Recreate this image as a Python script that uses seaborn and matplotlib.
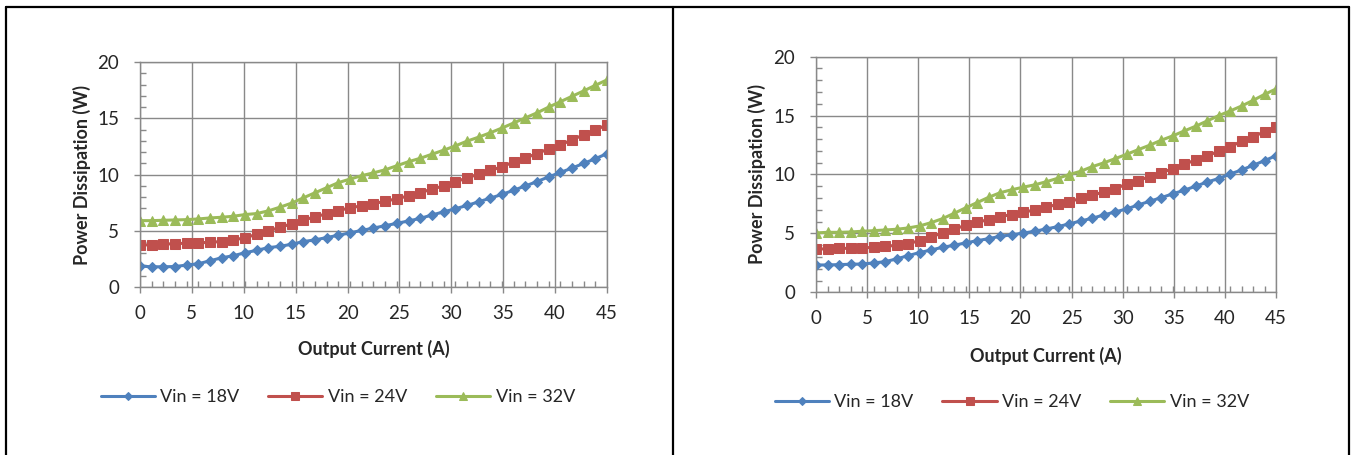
import numpy as np
import pandas as pd
import matplotlib
matplotlib.use('Agg')
import matplotlib.pyplot as plt
from matplotlib.ticker import MultipleLocator, FixedLocator
import seaborn as sns

# Output current (A), 41 points 0..45
current = [0, 1.125, 2.25, 3.375, 4.5, 5.625, 6.75, 7.875, 9, 10.125,
           11.25, 12.375, 13.5, 14.625, 15.75, 16.875, 18, 19.125, 20.25, 21.375,
           22.5, 23.625, 24.75, 25.875, 27, 28.125, 29.25, 30.375, 31.5, 32.625,
           33.75, 34.875, 36, 37.125, 38.25, 39.375, 40.5, 41.625, 42.75, 43.875, 45]

labels = ['Vin = 18V', 'Vin = 24V', 'Vin = 32V']

# left chart
left_18 = [1.86, 1.8, 1.8, 1.82, 1.95, 2.07, 2.33, 2.6, 2.78, 3.05,
           3.26, 3.5, 3.62, 3.8, 4.04, 4.19, 4.4, 4.6, 4.82, 5.03,
           5.24, 5.45, 5.66, 5.87, 6.1, 6.4, 6.68, 6.95, 7.25, 7.57,
           7.9, 8.23, 8.6, 8.98, 9.37, 9.79, 10.18, 10.57, 10.99, 11.4, 11.86]
left_24 = [3.71, 3.77, 3.8, 3.86, 3.89, 3.92, 3.98, 4.04, 4.16, 4.4,
           4.67, 5.0, 5.3, 5.63, 5.93, 6.26, 6.5, 6.8, 7.04, 7.22,
           7.42, 7.62, 7.85, 8.1, 8.38, 8.71, 8.98, 9.34, 9.7, 10.03,
           10.36, 10.69, 11.11, 11.47, 11.86, 12.28, 12.63, 13.08, 13.53, 13.95, 14.43]
left_32 = [5.9, 5.9, 5.93, 5.96, 5.99, 6.05, 6.14, 6.2, 6.29, 6.44,
           6.53, 6.77, 7.1, 7.46, 7.93, 8.38, 8.83, 9.28, 9.6, 9.9,
           10.15, 10.42, 10.78, 11.14, 11.44, 11.8, 12.16, 12.54, 12.96, 13.32,
           13.71, 14.13, 14.58, 15.03, 15.48, 15.99, 16.47, 16.95, 17.43, 17.93, 18.41]

# right chart
right_18 = [2.32, 2.32, 2.35, 2.38, 2.4, 2.49, 2.6, 2.83, 3.11, 3.37,
            3.59, 3.82, 3.99, 4.19, 4.38, 4.55, 4.75, 4.88, 5.02, 5.18,
            5.37, 5.57, 5.8, 6.05, 6.28, 6.56, 6.82, 7.07, 7.41, 7.72,
            8.03, 8.35, 8.66, 9.0, 9.36, 9.65, 10.04, 10.38, 10.78, 11.17, 11.6]
right_24 = [3.68, 3.68, 3.73, 3.73, 3.76, 3.82, 3.9, 3.99, 4.13, 4.38,
            4.7, 5.04, 5.35, 5.69, 5.94, 6.17, 6.42, 6.6, 6.8, 6.98,
            7.21, 7.47, 7.67, 7.98, 8.23, 8.51, 8.8, 9.17, 9.48, 9.82,
            10.13, 10.5, 10.86, 11.23, 11.57, 11.97, 12.36, 12.81, 13.21, 13.63, 14.06]
right_32 = [5.04, 5.09, 5.09, 5.12, 5.18, 5.23, 5.29, 5.35, 5.46, 5.63,
            5.91, 6.25, 6.7, 7.16, 7.61, 8.06, 8.45, 8.7, 8.92, 9.12,
            9.38, 9.67, 9.99, 10.27, 10.66, 10.98, 11.34, 11.71, 12.1, 12.48,
            12.9, 13.27, 13.69, 14.09, 14.54, 14.99, 15.39, 15.81, 16.29, 16.8, 17.26]

colors = ['#4F81BD', '#C0504D', '#9BBB59']
markers = ['D', 's', '^']
msizes = [5.5, 6.5, 7]
grid_col = '#898989'

sns.set_style('white')
plt.rcParams['font.family'] = ['Lato', 'DejaVu Sans']

fig = plt.figure(figsize=(13.51, 4.55), dpi=100)

# panel frames
for xs, ys in [([0.0044, 0.0044], [0.0, 0.985]), ([0.0044, 0.9985], [0.985, 0.985]),
               ([0.4978, 0.4978], [0.0, 0.985]), ([0.9985, 0.9985], [0.0, 0.985])]:
    fig.add_artist(plt.Line2D(xs, ys, color='black', lw=1.6, transform=fig.transFigure))


def draw_panel(rect, series, xlab_y, ylab_x, leg_center):
    ax = fig.add_axes(rect)
    rows = []
    for lab, vals in zip(labels, series):
        for c, v in zip(current, vals):
            rows.append({'Output Current (A)': c, 'Power Dissipation (W)': v, 'Vin': lab})
    df = pd.DataFrame(rows)
    for lab, col, mk, ms in zip(labels, colors, markers, msizes):
        sns.lineplot(data=df[df['Vin'] == lab], x='Output Current (A)', y='Power Dissipation (W)',
                     ax=ax, color=col, marker=mk, markersize=ms, markeredgecolor=col,
                     linewidth=2.2, label=lab)
    ax.set_xlim(0, 45)
    ax.set_ylim(0, 20)
    ax.xaxis.set_major_locator(MultipleLocator(5))
    ax.xaxis.set_minor_locator(FixedLocator(current))
    ax.yaxis.set_major_locator(MultipleLocator(5))
    ax.yaxis.set_minor_locator(MultipleLocator(1))
    ax.grid(True, which='major', color=grid_col, linewidth=1.0)
    for s in ax.spines.values():
        s.set_color(grid_col)
        s.set_linewidth(1.0)
    ax.tick_params(which='major', direction='out', length=4, width=1, color=grid_col,
                   labelsize=13.5, bottom=True, left=True)
    ax.tick_params(axis='x', which='major', pad=9)
    ax.tick_params(axis='y', which='major', pad=11)
    ax.tick_params(which='minor', direction='in', length=4, width=1, color=grid_col,
                   bottom=True, left=True)
    ax.set_xlabel('Output Current (A)', fontsize=13, fontweight='bold')
    ax.set_ylabel('Power Dissipation (W)', fontsize=13, fontweight='bold')
    ax.xaxis.set_label_coords(0.5, xlab_y)
    ax.yaxis.set_label_coords(ylab_x, 0.5)
    ax.get_legend().remove()
    handles, labs = ax.get_legend_handles_labels()
    fig.legend(handles, labs, loc='center', bbox_to_anchor=leg_center, ncol=3, frameon=False,
               fontsize=13, handlelength=3.0, columnspacing=1.6, handletextpad=0.3, markerscale=0.8)
    return ax


draw_panel([0.1036, 0.3692, 0.3457, 0.4945], [left_18, left_24, left_32],
           -0.235, -0.105, (0.250, 0.1275))
draw_panel([0.604, 0.3576, 0.3405, 0.5178], [right_18, right_24, right_32],
           -0.232, -0.109, (0.749, 0.1165))

fig.savefig('out.png', dpi=100)
